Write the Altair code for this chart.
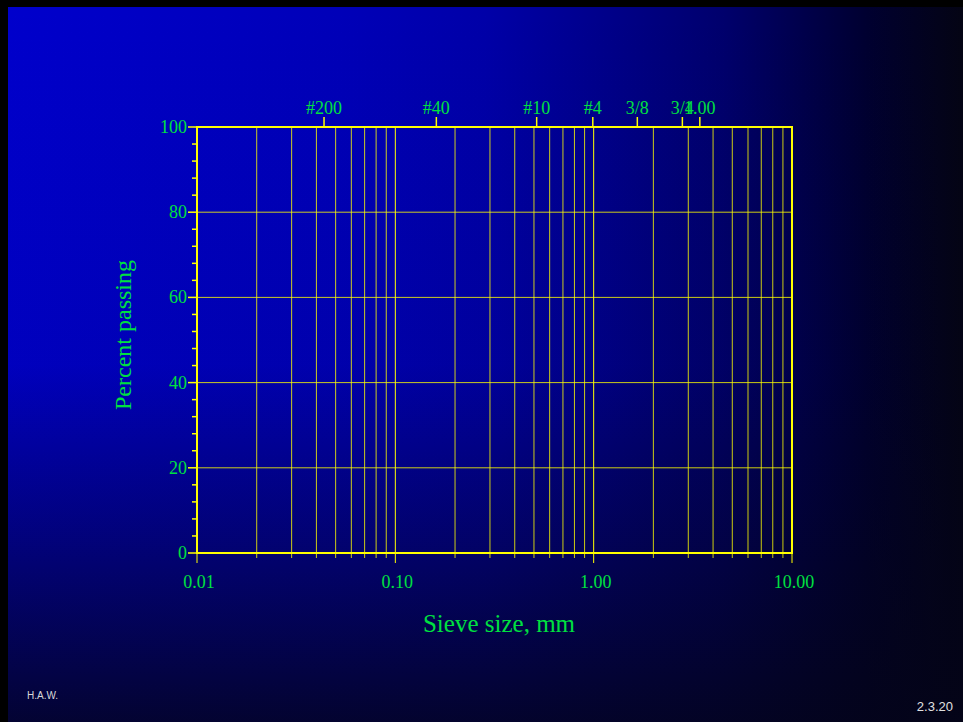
import altair as alt
import pandas as pd

# Plot area size in pixels (the frame of the grading chart)
W, H = 595, 426
PAD = {"left": 197, "top": 127, "right": 171, "bottom": 169}

GREEN = "#00e040"
YELLOW = "#ffff00"
SERIF = "Liberation Serif"

# Sieve-size axis (log scale, mm)
X_DOMAIN = [0.01, 10.0]
X_MAJOR = [0.01, 0.1, 1.0, 10.0]
X_MAJOR_TEXT = ["0.01", "0.10", "1.00", "10.00"]
X_GRID = [0.02, 0.03, 0.04, 0.05, 0.06, 0.07, 0.08, 0.09,
          0.2, 0.3, 0.4, 0.5, 0.6, 0.7, 0.8, 0.9,
          2.0, 3.0, 4.0, 5.0, 6.0, 7.0, 8.0, 9.0]

# Percent-passing axis
Y_DOMAIN = [0, 100]
Y_MAJOR = [0, 20, 40, 60, 80, 100]
Y_MINOR = [4, 8, 12, 16, 24, 28, 32, 36, 44, 48, 52, 56,
           64, 68, 72, 76, 84, 88, 92, 96]
Y_GRID = [20, 40, 60, 80]

# Standard sieve designations along the top edge
SIEVE_NAMES = ["#200", "#40", "#10", "#4", "3/8", "3/4", "1.00"]
SIEVE_POS = [0.0437, 0.161, 0.516, 0.99, 1.66, 2.80, 3.43]
SIEVE_DX = [3, 0, 2, 2, 0, 3, 4]

xscale = alt.Scale(type="log", domain=X_DOMAIN, nice=False)
yscale = alt.Scale(domain=Y_DOMAIN, nice=False, zero=False)

one = pd.DataFrame({"k": [0]})

# Slide background: blue fading to black towards the right and bottom
fade_h = alt.LinearGradient(
    gradient="linear", x1=0, y1=0, x2=1, y2=0,
    stops=[alt.GradientStop(color="#0000cc", offset=0),
           alt.GradientStop(color="#0000b8", offset=0.35),
           alt.GradientStop(color="#0000a8", offset=0.5),
           alt.GradientStop(color="#00006c", offset=0.75),
           alt.GradientStop(color="#000030", offset=0.9),
           alt.GradientStop(color="#040414", offset=1)])
fade_v = alt.LinearGradient(
    gradient="linear", x1=0, y1=0, x2=0, y2=1,
    stops=[alt.GradientStop(color="rgba(4,4,24,0)", offset=0),
           alt.GradientStop(color="rgba(4,4,24,0.08)", offset=0.5),
           alt.GradientStop(color="rgba(4,4,24,0.45)", offset=0.75),
           alt.GradientStop(color="rgba(4,4,24,0.85)", offset=1)])

bg_enc = dict(x=alt.value(8 - PAD["left"]), x2=alt.value(963 - PAD["left"]),
              y=alt.value(7 - PAD["top"]), y2=alt.value(722 - PAD["top"]))
bg = alt.Chart(one).mark_rect(fill=fade_h).encode(**bg_enc)
shade = alt.Chart(one).mark_rect(fill=fade_v).encode(**bg_enc)

# Vertical grid lines with short ticks below the frame
vgrid = alt.Chart(pd.DataFrame({"v": X_GRID})).mark_rule(
    color=YELLOW, strokeWidth=1, opacity=0.8
).encode(x=alt.X("v:Q", scale=xscale, axis=None),
         y=alt.value(0), y2=alt.value(H + 5))

xmajor = alt.Chart(pd.DataFrame({"v": X_MAJOR})).mark_rule(
    color=YELLOW, strokeWidth=1
).encode(x=alt.X("v:Q", scale=xscale, axis=None),
         y=alt.value(0), y2=alt.value(H + 10))

hgrid = alt.Chart(pd.DataFrame({"p": Y_GRID})).mark_rule(
    color=YELLOW, strokeWidth=1, opacity=0.8
).encode(y=alt.Y("p:Q", scale=yscale, axis=None),
         x=alt.value(0), x2=alt.value(W))

frame = alt.Chart(one).mark_rect(
    fillOpacity=0, stroke=YELLOW, strokeWidth=2
).encode(x=alt.value(0), x2=alt.value(W), y=alt.value(0), y2=alt.value(H))

ymajor_ticks = alt.Chart(pd.DataFrame({"p": Y_MAJOR})).mark_rule(
    color=YELLOW, strokeWidth=1.5
).encode(y=alt.Y("p:Q", scale=yscale, axis=None),
         x=alt.value(-9), x2=alt.value(0))

yminor_ticks = alt.Chart(pd.DataFrame({"p": Y_MINOR})).mark_rule(
    color=YELLOW, strokeWidth=1.5
).encode(y=alt.Y("p:Q", scale=yscale, axis=None),
         x=alt.value(-5), x2=alt.value(0))

sieves = pd.DataFrame({"pos": SIEVE_POS, "name": SIEVE_NAMES, "dx": SIEVE_DX})
sieve_ticks = alt.Chart(sieves).mark_rule(color=YELLOW, strokeWidth=1.5).encode(
    x=alt.X("pos:Q", scale=xscale, axis=None),
    y=alt.value(-10), y2=alt.value(0))

sieve_labels = alt.Chart(sieves).transform_calculate(
    xpx="0"
).mark_text(font=SERIF, fontSize=18, color=GREEN, align="center",
            baseline="alphabetic").encode(
    x=alt.X("pos:Q", scale=xscale, axis=None),
    y=alt.value(-13),
    text="name:N",
    xOffset=alt.XOffset("dx:Q", scale=None))

y_labels = alt.Chart(pd.DataFrame({"p": Y_MAJOR})).mark_text(
    font=SERIF, fontSize=18, color=GREEN, align="right", baseline="middle", dy=1
).encode(y=alt.Y("p:Q", scale=yscale, axis=None),
         x=alt.value(-10), text="p:Q")

x_labels = alt.Chart(pd.DataFrame({"v": X_MAJOR, "t": X_MAJOR_TEXT})).mark_text(
    font=SERIF, fontSize=18, color=GREEN, align="center", baseline="alphabetic", dx=2
).encode(x=alt.X("v:Q", scale=xscale, axis=None),
         y=alt.value(H + 35), text="t:N")

x_title = alt.Chart(one).mark_text(
    text="Sieve size, mm", font=SERIF, fontSize=25, color=GREEN,
    align="center", baseline="alphabetic"
).encode(x=alt.value(302), y=alt.value(505))

y_title = alt.Chart(one).mark_text(
    text="Percent passing", font=SERIF, fontSize=24, color=GREEN,
    align="center", baseline="alphabetic", angle=270
).encode(x=alt.value(-66), y=alt.value(208))

author = alt.Chart(one).mark_text(
    text="H.A.W.", font="Liberation Sans", fontSize=10, color="#d8d8d8",
    align="left", baseline="alphabetic"
).encode(x=alt.value(27 - PAD["left"]), y=alt.value(699 - PAD["top"]))

page_no = alt.Chart(one).mark_text(
    text="2.3.20", font="Liberation Sans", fontSize=13, color="#e0e0e0",
    align="right", baseline="alphabetic"
).encode(x=alt.value(953 - PAD["left"]), y=alt.value(711 - PAD["top"]))

chart = alt.layer(
    bg, shade, vgrid, hgrid, xmajor, frame,
    ymajor_ticks, yminor_ticks, sieve_ticks,
    sieve_labels, y_labels, x_labels, x_title, y_title, author, page_no
).properties(
    width=W, height=H,
    autosize=alt.AutoSizeParams(type="none"),
    padding=PAD,
    background="#000000",
).configure_view(stroke=None)

chart.save("out.html", embed_options={"renderer": "svg", "actions": False})
